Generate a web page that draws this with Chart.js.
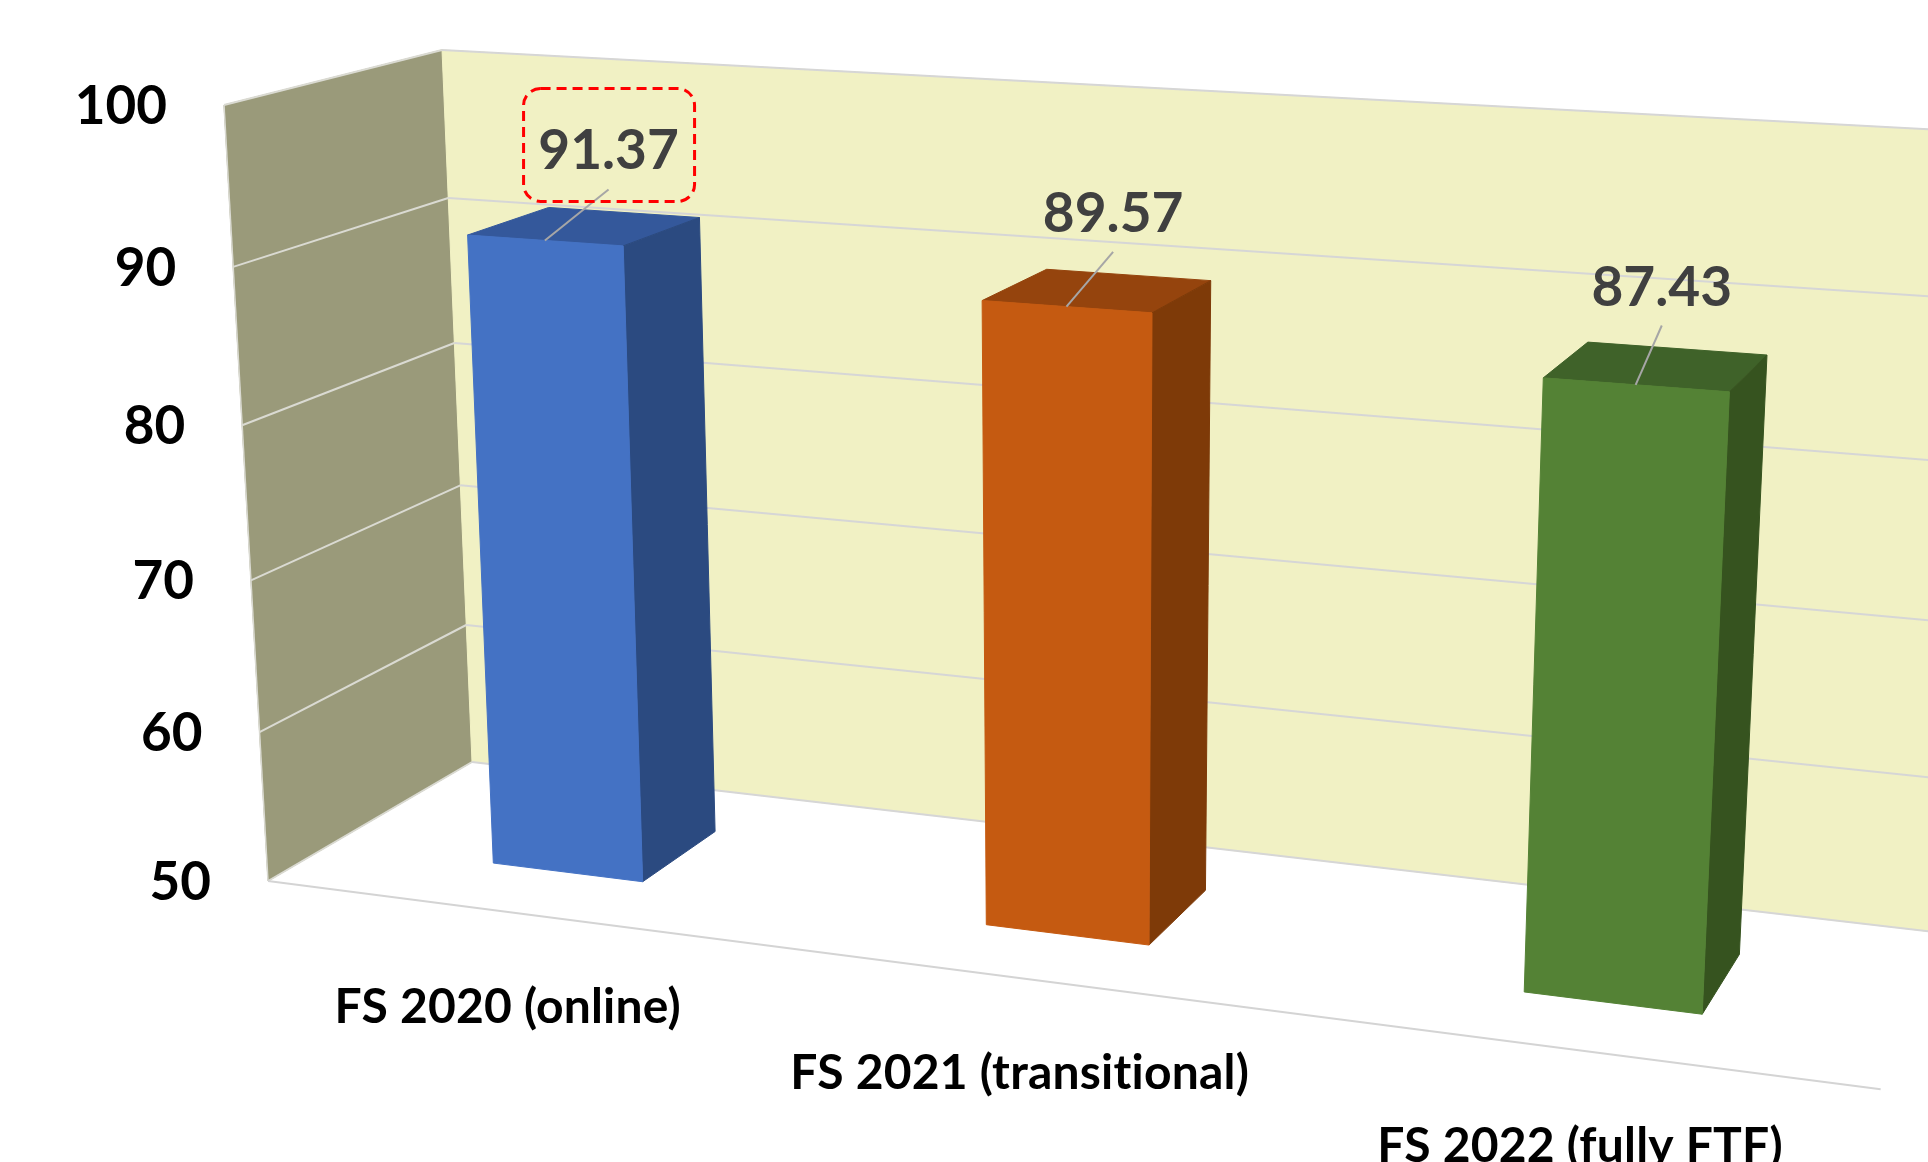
<!DOCTYPE html>
<html>
<head>
<meta charset="utf-8">
<title>FS scores</title>
<script src="https://cdn.jsdelivr.net/npm/chart.js@4.4.1/dist/chart.umd.min.js"></script>
<style>
  html, body { margin: 0; padding: 0; background: #fff; overflow: hidden; }
  #chart { display: block; }
</style>
</head>
<body>
<canvas id="chart" width="1928" height="1162"></canvas>
<script>
const categories = ["FS 2020 (online)", "FS 2021 (transitional)", "FS 2022 (fully FTF)"];
const scores = [91.37, 89.57, 87.43];
const yTicks = [50, 60, 70, 80, 90, 100];
const highlighted = [true, false, false];

// bar faces: front, top, side
const frontColors = ["#4472C4", "#C55A11", "#548235"];
const topColors = ["#34589B", "#95440D", "#3F6229"];
const sideColors = ["#2B4A80", "#7E3A08", "#36531F"];

// perspective fitted to the picture
// u = across the plot, v = up the value axis, w = into the depth (0 front, 1 back wall)
const cam = {
  o: [268, 881, 1],
  a: [1373.8, 70, -0.127],
  b: [-55.49, -781.39, -0.0513],
  c: [248.3, -47.49, 0.09385]
};
function project(u, v, w) {
  const h = [0, 1, 2].map(i => cam.o[i] + u * cam.a[i] + v * cam.b[i] + w * cam.c[i]);
  return [h[0] / h[2], h[1] / h[2]];
}

const BAR_FRONT = 0.3, BAR_BACK = 0.7;

const scene3d = {
  id: "scene3d",
  beforeDatasetsDraw(chart) {
    const ctx = chart.ctx, area = chart.chartArea;
    const xs = chart.scales.x, ys = chart.scales.y;
    const uOf = px => (px - area.left) / (area.right - area.left);
    const vOf = py => (area.bottom - py) / (area.bottom - area.top);
    const vVal = val => vOf(ys.getPixelForValue(val));

    function poly(pts, fill) {
      ctx.beginPath();
      pts.forEach((p, i) => i ? ctx.lineTo(p[0], p[1]) : ctx.moveTo(p[0], p[1]));
      ctx.closePath();
      ctx.fillStyle = fill;
      ctx.fill();
      ctx.strokeStyle = fill;
      ctx.lineWidth = 1;
      ctx.stroke();
    }
    function line(p, q, color, lw) {
      ctx.beginPath();
      ctx.moveTo(p[0], p[1]);
      ctx.lineTo(q[0], q[1]);
      ctx.strokeStyle = color;
      ctx.lineWidth = lw;
      ctx.stroke();
    }

    ctx.save();

    // walls
    poly([project(0, 0, 0), project(0, 1, 0), project(0, 1, 1), project(0, 0, 1)], "#9A9A7A");
    poly([project(0, 0, 1), project(0, 1, 1), project(1, 1, 1), project(1, 0, 1)], "#F1F1C4");

    yTicks.forEach(t => {
      const v = vVal(t);
      line(project(0, v, 0), project(0, v, 1), "#DADAD2", 2);
      line(project(0, v, 1), project(1, v, 1), "#D6D6D6", 2);
    });
    line(project(0, 0, 0), project(0, 1, 0), "#DADAD2", 1.5);
    line(project(0, 0, 0), project(1, 0, 0), "#D4D4D4", 2);

    // bars (the base is clipped to the axis minimum)
    const meta = chart.getDatasetMeta(0);
    const tops = [];
    meta.data.forEach((bar, i) => {
      const p = bar.getProps(["x", "y", "base", "width"], true);
      const u0 = uOf(p.x - p.width / 2), u1 = uOf(p.x + p.width / 2), uc = uOf(p.x);
      const v0 = Math.max(0, vOf(p.base)), v1 = vOf(p.y);
      const f = BAR_FRONT, k = BAR_BACK;
      poly([project(u0, v1, f), project(u1, v1, f), project(u1, v1, k), project(u0, v1, k)], topColors[i]);
      poly([project(u1, v0, f), project(u1, v1, f), project(u1, v1, k), project(u1, v0, k)], sideColors[i]);
      poly([project(u0, v0, f), project(u1, v0, f), project(u1, v1, f), project(u0, v1, f)], frontColors[i]);
      tops.push({ uc, v1 });
    });

    // value labels with leader lines
    ctx.textAlign = "center";
    ctx.textBaseline = "alphabetic";
    tops.forEach((t, i) => {
      const back = project(t.uc, t.v1, BAR_BACK);
      const lx = back[0] - 15, ly = back[1] - 62;
      const front = project(t.uc, t.v1, BAR_FRONT);
      line([lx, ly + 39], front, "#A6A6A6", 2);
      ctx.font = "bold 55px Lato";
      ctx.fillStyle = "#404040";
      ctx.fillText(scores[i].toFixed(2), lx, ly + 19);
      if (highlighted[i]) {
        ctx.save();
        ctx.setLineDash([10, 6]);
        ctx.strokeStyle = "#FF0000";
        ctx.lineWidth = 3;
        ctx.beginPath();
        ctx.roundRect(lx - 85, ly - 62, 171, 113, 17);
        ctx.stroke();
        ctx.restore();
      }
    });

    // value axis labels along the front edge of the side wall
    ctx.textAlign = "right";
    ctx.font = "bold 53px Lato";
    ctx.fillStyle = "#000";
    yTicks.forEach(t => {
      const p = project(0, vVal(t), 0);
      ctx.fillText(String(t), p[0] - 57, p[1] + 19);
    });

    // category labels under the floor edge (tiny spacing keeps "ti" unligated)
    ctx.textAlign = "center";
    ctx.font = "bold 48px Lato";
    ctx.letterSpacing = "0.2px";
    categories.forEach((c, i) => {
      const p = project(uOf(xs.getPixelForValue(i)), 0, 0);
      ctx.fillText(c, p[0], p[1] + 111);
    });

    ctx.restore();
    return false;
  }
};

new Chart(document.getElementById("chart"), {
  type: "bar",
  data: {
    labels: categories,
    datasets: [{
      data: scores,
      backgroundColor: frontColors,
      categoryPercentage: 1,
      barPercentage: 0.312
    }]
  },
  options: {
    responsive: false,
    animation: false,
    devicePixelRatio: 1,
    layout: { padding: 0 },
    plugins: { legend: { display: false }, tooltip: { enabled: false } },
    scales: {
      x: { display: false },
      y: { display: false, min: 50, max: 100, ticks: { stepSize: 10 } }
    }
  },
  plugins: [scene3d]
});
</script>
</body>
</html>
